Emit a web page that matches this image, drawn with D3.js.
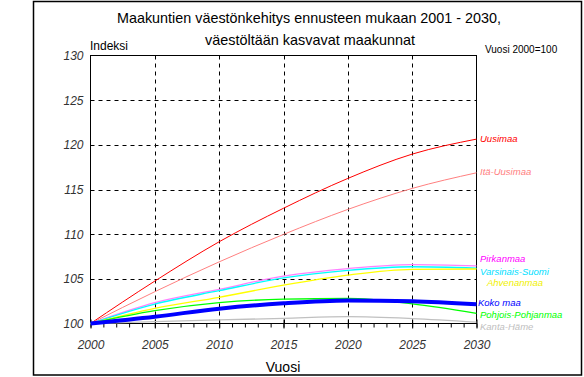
<!DOCTYPE html>
<html><head><meta charset="utf-8">
<script src="https://cdn.jsdelivr.net/npm/d3@7/dist/d3.min.js"></script>
<style>body{margin:0;background:#fff}svg{display:block;font-family:"Liberation Sans",Arial,sans-serif}</style>
</head><body><svg id="c" width="584" height="377"></svg>
<script>
const years = [2000, 2005, 2010, 2015, 2020, 2025, 2030];
const uusimaa = [100, 104.75, 109.15, 112.9, 116.24, 118.96, 120.64];
const itaUusimaa = [100, 103.56, 106.9, 109.97, 112.77, 115.12, 116.87];
const pirkanmaa = [100, 102.33, 103.82, 105.3, 106.15, 106.6, 106.45];
const varsinaisSuomi = [100, 102.18, 103.67, 105.1, 105.95, 106.35, 106.2];
const ahvenanmaa = [100, 101.7, 102.93, 104.3, 105.42, 106.06, 106.1];
const pohjoisPohjanmaa = [100, 101.43, 102.33, 102.72, 102.8, 102.2, 101.14];
const kantaHame = [100, 100.2, 100.4, 100.58, 100.76, 100.55, 100.15];
const kokoMaa = [100, 100.76, 101.66, 102.26, 102.58, 102.5, 102.15];
const seriesNames = ["Uusimaa","Itä-Uusimaa","Pirkanmaa","Varsinais-Suomi","Ahvenanmaa","Pohjois-Pohjanmaa","Kanta-Häme","Koko maa"];
const seriesValues = [uusimaa, itaUusimaa, pirkanmaa, varsinaisSuomi, ahvenanmaa, pohjoisPohjanmaa, kantaHame, kokoMaa];
const xTicks = [2000, 2005, 2010, 2015, 2020, 2025, 2030];
const yTicks = [100, 105, 110, 115, 120, 125, 130];
const titleLines = ["Maakuntien väestönkehitys ennusteen mukaan 2001 - 2030,", "väestöltään kasvavat maakunnat"];

// styles (not data)
const style = {
  "Uusimaa": {line:"#ff0000", label:"#ff0000", w:1, dy:0, dx:0},
  "Itä-Uusimaa": {line:"#ff8080", label:"#ff8080", w:1, dy:0, dx:0},
  "Pirkanmaa": {line:"#ff80ff", label:"#ff00ff", w:1.3, dy:-6, dx:0},
  "Varsinais-Suomi": {line:"#00ffff", label:"#00e0ff", w:1.3, dy:4.5, dx:0},
  "Ahvenanmaa": {line:"#ffff00", label:"#f0f000", w:1.3, dy:14, dx:7},
  "Pohjois-Pohjanmaa": {line:"#00ff00", label:"#00ff00", w:1.3, dy:2, dx:0},
  "Kanta-Häme": {line:"#c0c0c0", label:"#c0c0c0", w:1.3, dy:5, dx:0},
  "Koko maa": {line:"#0000ff", label:"#0000ff", w:4, dy:-0.5, dx:-2}
};

const svg = d3.select("#c");
const L = 90.5, R = 476.5, T = 55.5, B = 323.5;
const x = d3.scaleLinear().domain([2000, 2030]).range([L, R]);
const y = d3.scaleLinear().domain([100, 130]).range([B, T]);

// outer frame
svg.append("rect").attr("x", 33.5).attr("y", 1.5).attr("width", 548).attr("height", 373.5)
  .attr("fill", "none").attr("stroke", "#000").attr("stroke-width", 1.5);

// titles
svg.append("text").attr("x", 309).attr("y", 23).attr("text-anchor", "middle")
  .attr("font-size", 15).attr("textLength", 384).attr("lengthAdjust", "spacingAndGlyphs").text(titleLines[0]);
svg.append("text").attr("x", 310).attr("y", 45).attr("text-anchor", "middle")
  .attr("font-size", 15).attr("textLength", 210).attr("lengthAdjust", "spacingAndGlyphs").text(titleLines[1]);
svg.append("text").attr("x", 90).attr("y", 50).attr("font-size", 12).text("Indeksi");
svg.append("text").attr("x", 485).attr("y", 53).attr("font-size", 10).text("Vuosi 2000=100");
svg.append("text").attr("x", 283).attr("y", 372).attr("text-anchor", "middle").attr("font-size", 14).text("Vuosi");

// grid
const g = svg.append("g");
g.selectAll(".hg").data(yTicks.filter(d => d > 100 && d < 130)).join("line")
  .attr("x1", L).attr("x2", R).attr("y1", d => Math.round(y(d)) + 0.5).attr("y2", d => Math.round(y(d)) + 0.5)
  .attr("stroke", "#000").attr("stroke-dasharray", "4,4");
g.selectAll(".vg").data(xTicks.filter(d => d > 2000 && d < 2030)).join("line")
  .attr("y1", T).attr("y2", B).attr("x1", d => Math.round(x(d)) + 0.5).attr("x2", d => Math.round(x(d)) + 0.5)
  .attr("stroke", "#000").attr("stroke-dasharray", "4,4");

// x axis with minor ticks
const xAxis = d3.axisBottom(x).tickValues(d3.range(2000, 2031)).tickSize(4).tickFormat("");
const xa = svg.append("g").attr("transform", `translate(0,${B})`).call(xAxis);
xa.select(".domain").remove();
xa.selectAll("line").attr("stroke", "#000");
const xMajor = d3.axisBottom(x).tickValues(xTicks).tickSize(5).tickPadding(12).tickFormat(d3.format("d"));
const xm = svg.append("g").attr("transform", `translate(0,${B})`).call(xMajor);
xm.select(".domain").remove();
xm.selectAll("line").attr("y1", -4).attr("stroke", "#000");
xm.selectAll("text").attr("font-size", 12).attr("font-style", "italic").attr("fill", "#333")
  .attr("font-family", "'Liberation Sans',Arial,sans-serif");

// y labels
const yAxis = d3.axisLeft(y).tickValues(yTicks).tickSize(0).tickPadding(7).tickFormat(d3.format("d"));
const ya = svg.append("g").attr("transform", `translate(${L},0)`).call(yAxis);
ya.select(".domain").remove();
ya.selectAll("text").attr("font-size", 12).attr("font-style", "italic").attr("fill", "#333")
  .attr("font-family", "'Liberation Sans',Arial,sans-serif");

// plot frame
svg.append("rect").attr("x", L).attr("y", T).attr("width", R - L).attr("height", B - T)
  .attr("fill", "none").attr("stroke", "#000").attr("stroke-width", 1);

// lines
const line = d3.line().x((d, i) => x(years[i])).y(d => y(d)).curve(d3.curveMonotoneX);
seriesNames.forEach((n, k) => {
  const s = style[n];
  svg.append("path").attr("d", line(seriesValues[k])).attr("fill", "none")
    .attr("stroke", s.line).attr("stroke-width", s.w);
});
// labels
seriesNames.forEach((n, k) => {
  const s = style[n];
  const v = seriesValues[k];
  svg.append("text").attr("x", R + 3.5 + s.dx).attr("y", y(v[v.length - 1]) + s.dy)
    .attr("dominant-baseline", "middle").attr("font-size", 9.5).attr("font-style", "italic")
    .attr("fill", s.label).text(n);
});
</script></body></html>
